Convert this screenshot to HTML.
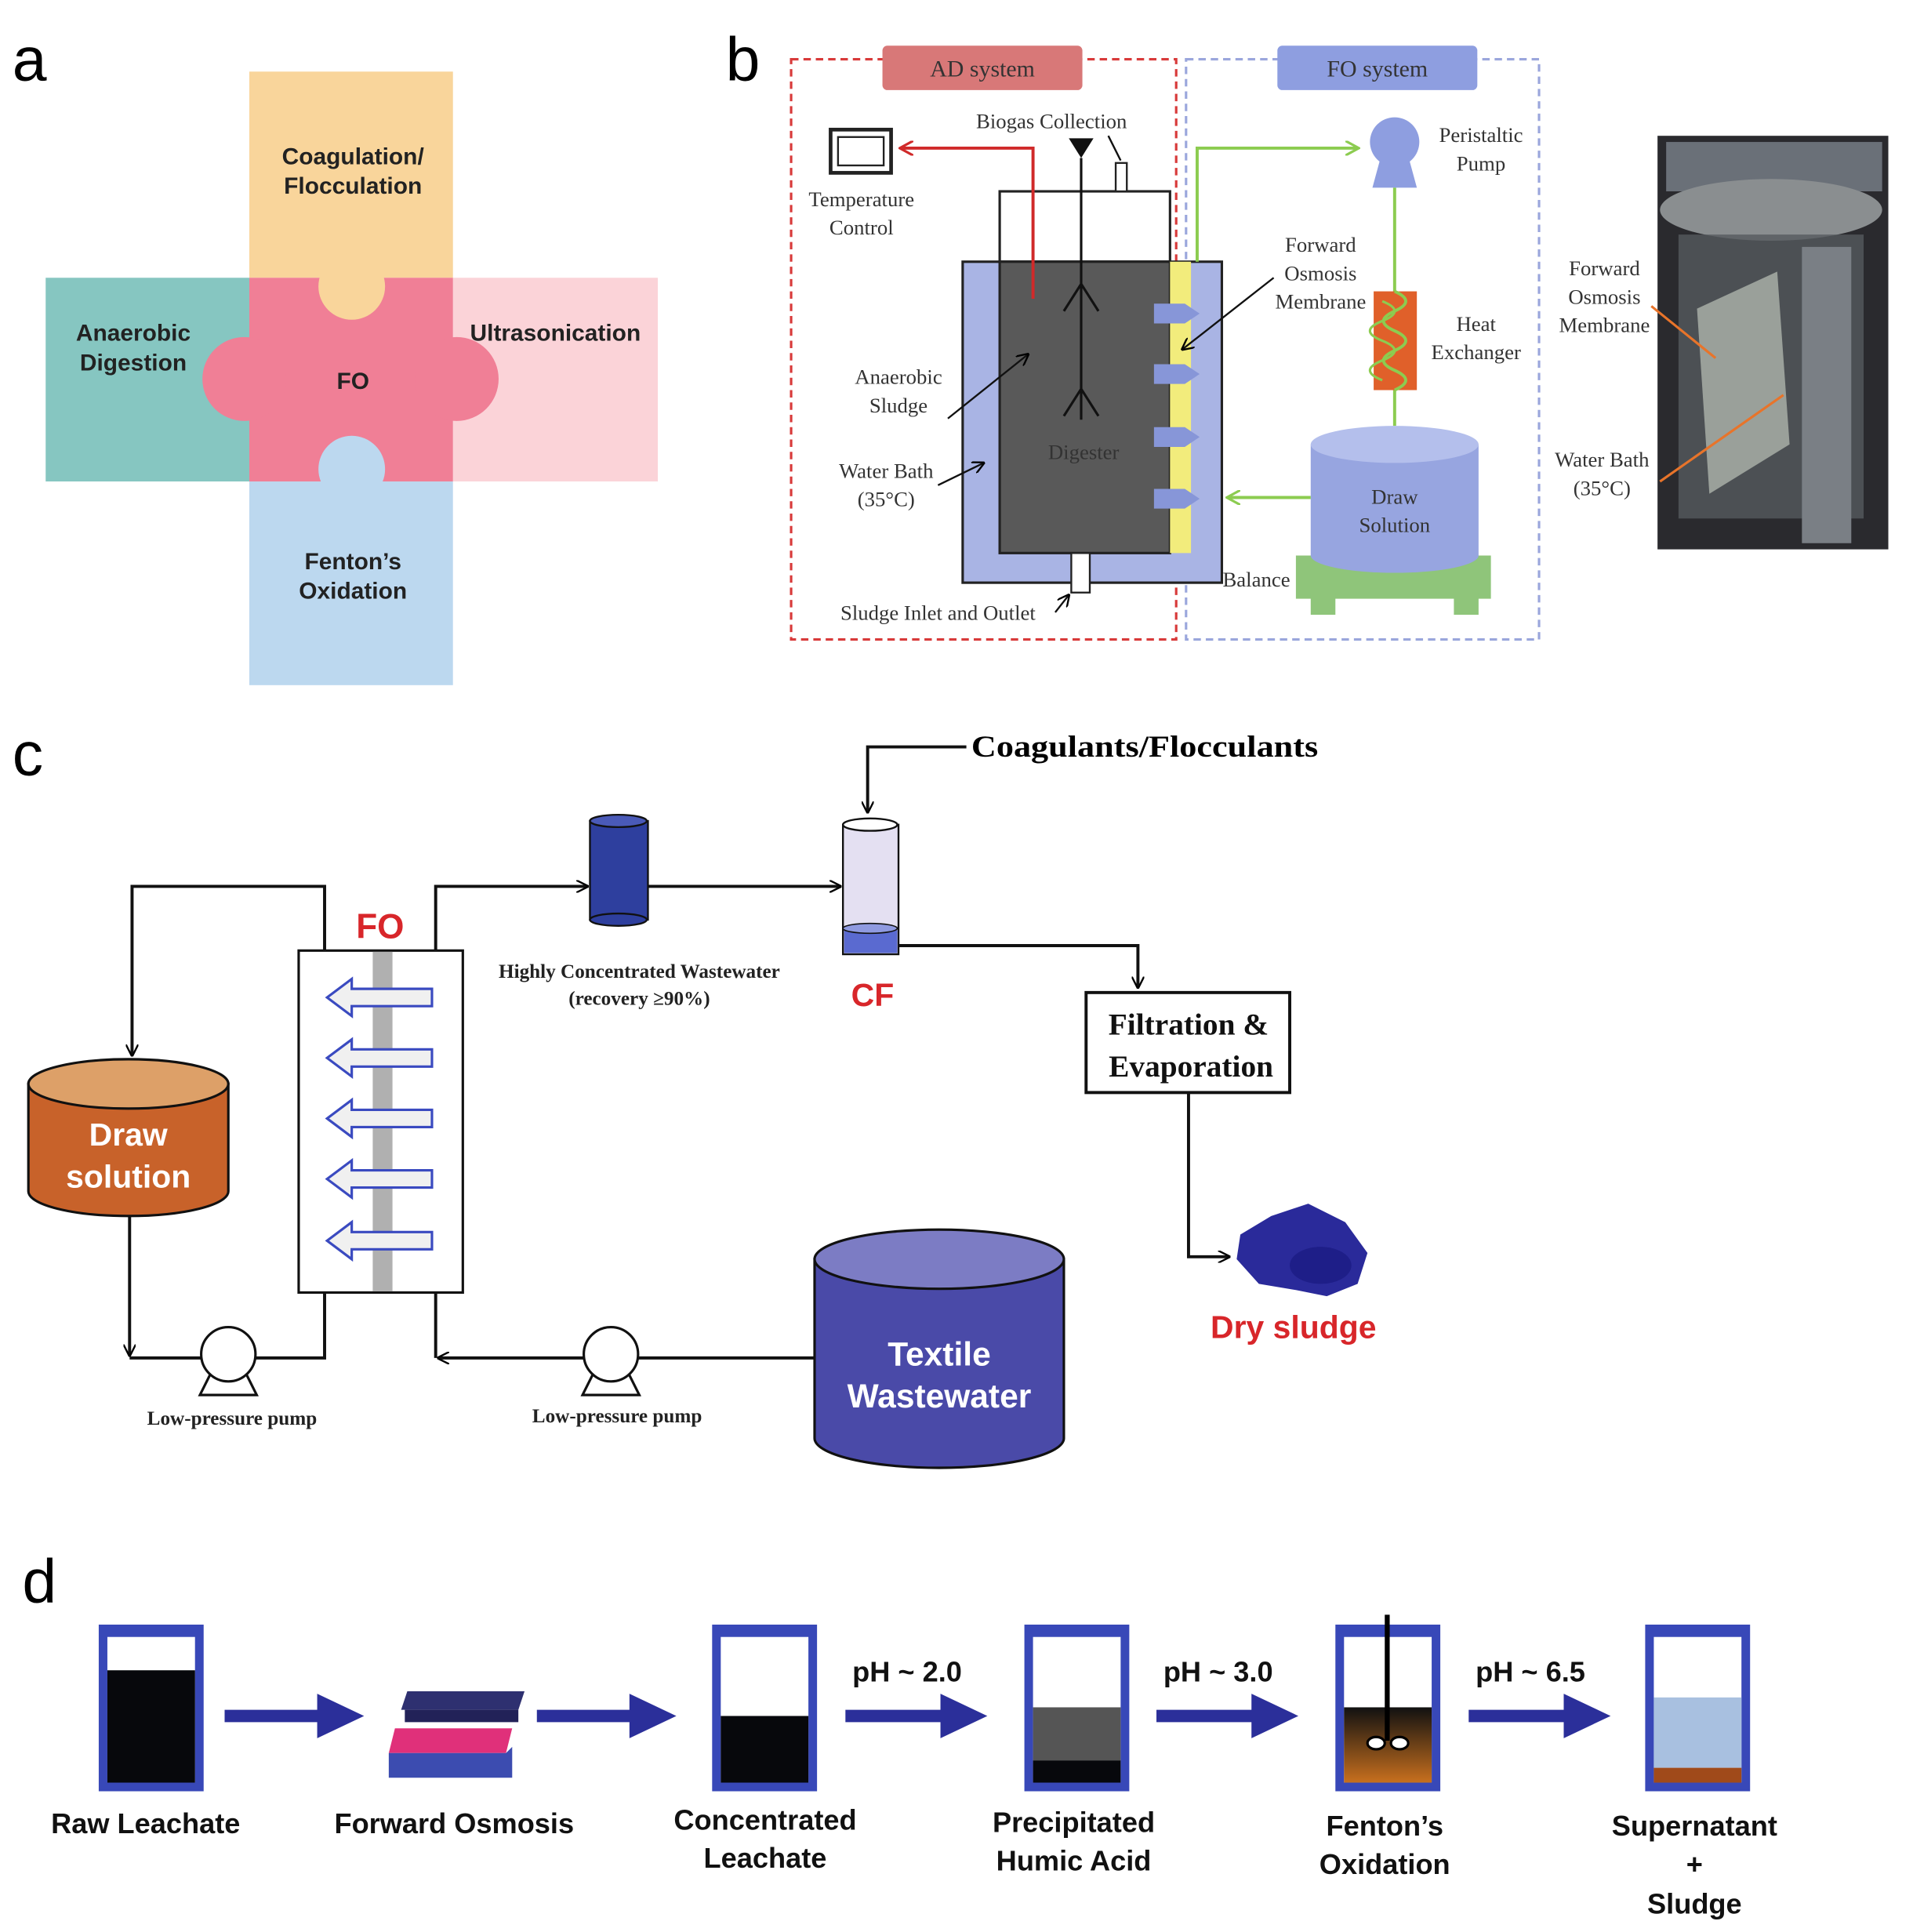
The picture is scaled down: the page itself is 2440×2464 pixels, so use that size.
<!DOCTYPE html>
<html><head><meta charset="utf-8"><style>
html,body{margin:0;padding:0;background:#fff;}
svg{display:block;}
.s{font-family:"Liberation Sans",sans-serif;font-weight:bold;}
.r{font-family:"Liberation Serif",serif;}
</style></head><body>
<svg width="2440" height="2464" viewBox="0 0 1550 1565" preserveAspectRatio="none" xmlns="http://www.w3.org/2000/svg">
<defs>
<marker id="ak" markerWidth="10" markerHeight="10" refX="9" refY="5" orient="auto" markerUnits="userSpaceOnUse"><path d="M0,0 L10,5 L0,10" fill="none" stroke="#000" stroke-width="1.5"/></marker>
<marker id="ar" markerWidth="12" markerHeight="12" refX="10" refY="6" orient="auto" markerUnits="userSpaceOnUse"><path d="M0,0 L11,6 L0,12" fill="none" stroke="#d02a2a" stroke-width="2"/></marker>
<marker id="ag" markerWidth="12" markerHeight="12" refX="10" refY="6" orient="auto" markerUnits="userSpaceOnUse"><path d="M0,0 L11,6 L0,12" fill="none" stroke="#8ccc50" stroke-width="2"/></marker>
<linearGradient id="fen" x1="0" y1="0" x2="0" y2="1"><stop offset="0" stop-color="#111"/><stop offset="1" stop-color="#c8701e"/></linearGradient>
</defs>

<!-- panel a -->
<text x="10" y="65" font-size="50" font-family="Liberation Sans,sans-serif">a</text>
<rect x="202" y="58" width="165" height="167" fill="#f9d59b"/>
<rect x="37" y="225" width="165" height="165" fill="#86c6c1"/>
<rect x="367" y="225" width="166" height="165" fill="#fbd3d8"/>
<rect x="202" y="390" width="165" height="165" fill="#bcd8ef"/>
<rect x="202" y="225" width="165" height="165" fill="#f07f96"/>
<circle cx="198" cy="307" r="34" fill="#f07f96"/>
<circle cx="370" cy="307" r="34" fill="#f07f96"/>
<circle cx="285" cy="232" r="27" fill="#f9d59b"/>
<circle cx="285" cy="380" r="27" fill="#bcd8ef"/>
<g class="s" font-size="19" fill="#222" text-anchor="middle">
<text x="286" y="133">Coagulation/</text><text x="286" y="157">Flocculation</text>
<text x="108" y="276">Anaerobic</text><text x="108" y="300">Digestion</text>
<text x="450" y="276">Ultrasonication</text>
<text x="286" y="315">FO</text>
<text x="286" y="461">Fenton’s</text><text x="286" y="485">Oxidation</text>
</g>

<!-- panel b -->
<text x="588" y="65" font-size="50" font-family="Liberation Sans,sans-serif">b</text>
<rect x="641" y="48" width="312" height="470" fill="none" stroke="#d83a3a" stroke-width="2" stroke-dasharray="6,4"/>
<rect x="961" y="48" width="286" height="470" fill="none" stroke="#9aa6dc" stroke-width="2" stroke-dasharray="6,4"/>
<rect x="715" y="37" width="162" height="36" rx="4" fill="#d87878"/>
<rect x="1035" y="37" width="162" height="36" rx="4" fill="#8e9ee0"/>
<g class="r" font-size="19" fill="#333" text-anchor="middle">
<text x="796" y="62">AD system</text><text x="1116" y="62">FO system</text>
</g>
<rect x="673" y="105" width="49" height="35" fill="none" stroke="#222" stroke-width="3"/>
<rect x="679" y="111" width="37" height="23" fill="none" stroke="#222" stroke-width="1.5"/>
<rect x="810" y="155" width="138" height="57" fill="#fff" stroke="#222" stroke-width="2"/>
<rect x="780" y="212" width="210" height="260" fill="#a9b4e4" stroke="#222" stroke-width="2"/>
<rect x="810" y="212" width="138" height="236" fill="#595959" stroke="#222" stroke-width="2"/>
<rect x="948" y="212" width="17" height="236" fill="#f2ec7c"/>
<g fill="#8796d8"><path d="M935,246h25l12,8l-12,8h-25z"/><path d="M935,295h25l12,8l-12,8h-25z"/><path d="M935,346h25l12,8l-12,8h-25z"/><path d="M935,396h25l12,8l-12,8h-25z"/></g>
<rect x="868" y="448" width="15" height="32" fill="#fff" stroke="#222" stroke-width="1.5"/>
<path d="M837,242V120H730" fill="none" stroke="#d02a2a" stroke-width="2.5" marker-end="url(#ar)"/>
<path d="M876,128V340M876,230l-14,22M876,230l14,22M876,315l-14,22M876,315l14,22" stroke="#111" stroke-width="2" fill="none"/>
<path d="M866,112h20l-10,16z" fill="#111"/>
<rect x="904" y="132" width="9" height="23" fill="#fff" stroke="#222" stroke-width="1.5"/>
<path d="M970,212V120H1100" fill="none" stroke="#8ccc50" stroke-width="2.5" marker-end="url(#ag)"/>
<circle cx="1130" cy="115" r="20" fill="#8e9ee0"/><path d="M1118,130h24l6,22h-36z" fill="#8e9ee0"/>
<path d="M1130,152V345" stroke="#8ccc50" stroke-width="2.5"/>
<rect x="1113" y="236" width="35" height="80" fill="#e0602a"/>
<path d="M1130,236q18,8 0,16t0,16t0,16t0,16t0,16" fill="none" stroke="#8ccc50" stroke-width="2.5"/>
<path d="M1120,244q20,8 0,16t0,16t0,16t0,16" fill="none" stroke="#8ccc50" stroke-width="2"/>
<rect x="1050" y="450" width="158" height="35" fill="#8fc57a"/>
<rect x="1062" y="480" width="20" height="18" fill="#8fc57a"/><rect x="1178" y="480" width="20" height="18" fill="#8fc57a"/>
<path d="M1062,360V450a68,14 0 0 0 136,0V360z" fill="#97a5e0"/>
<ellipse cx="1130" cy="360" rx="68" ry="15" fill="#b4bfec"/>
<path d="M1062,403H995" fill="none" stroke="#8ccc50" stroke-width="2.5" marker-end="url(#ag)"/>
<g class="r" font-size="17" fill="#333" text-anchor="middle">
<text x="852" y="104">Biogas Collection</text>
<text x="698" y="167">Temperature</text><text x="698" y="190">Control</text>
<text x="1070" y="204">Forward</text><text x="1070" y="227">Osmosis</text><text x="1070" y="250">Membrane</text>
<text x="1200" y="115">Peristaltic</text><text x="1200" y="138">Pump</text>
<text x="1196" y="268">Heat</text><text x="1196" y="291">Exchanger</text>
<text x="728" y="311">Anaerobic</text><text x="728" y="334">Sludge</text>
<text x="878" y="372">Digester</text>
<text x="718" y="387">Water Bath</text><text x="718" y="410">(35°C)</text>
<text x="1130" y="408">Draw</text><text x="1130" y="431">Solution</text>
<text x="1018" y="475">Balance</text>
<text x="760" y="502">Sludge Inlet and Outlet</text>
<text x="1300" y="223">Forward</text><text x="1300" y="246">Osmosis</text><text x="1300" y="269">Membrane</text>
<text x="1298" y="378">Water Bath</text><text x="1298" y="401">(35°C)</text>
</g>
<g stroke="#111" stroke-width="1.5" fill="none">
<path d="M1032,225L958,283" marker-end="url(#ak)"/>
<path d="M768,339L833,287" marker-end="url(#ak)"/>
<path d="M760,393L797,375" marker-end="url(#ak)"/>
<path d="M855,496L866,482" marker-end="url(#ak)"/>
<path d="M898,110L908,130"/>
</g>
<!-- photo -->
<rect x="1343" y="110" width="187" height="335" fill="#2a2a2e"/>
<rect x="1350" y="115" width="175" height="40" fill="#6a7078"/>
<ellipse cx="1435" cy="170" rx="90" ry="25" fill="#8a8e90"/>
<rect x="1360" y="190" width="150" height="230" fill="#555a5e" opacity=".8"/>
<path d="M1375,250L1440,220L1450,360L1385,400z" fill="#9aa09a"/>
<rect x="1460" y="200" width="40" height="240" fill="#7a7f85"/>
<path d="M1338,248L1390,290M1345,390L1445,320" stroke="#e8742a" stroke-width="2"/>

<!-- panel c -->
<text x="10" y="628" font-size="50" font-family="Liberation Sans,sans-serif">c</text>
<text x="787" y="613" class="r" font-weight="bold" font-size="25" textLength="281" lengthAdjust="spacingAndGlyphs">Coagulants/Flocculants</text>
<g stroke="#111" stroke-width="2.5" fill="none">
<path d="M783,605H703V658" marker-end="url(#ak)"/>
<path d="M353,770V718H476" marker-end="url(#ak)"/>
<path d="M525,718H681" marker-end="url(#ak)"/>
<path d="M728,766H922V800" marker-end="url(#ak)"/>
<path d="M963,885V1018H996" marker-end="url(#ak)"/>
<path d="M263,770V718H107V855" marker-end="url(#ak)"/>
<path d="M105,985V1098" marker-end="url(#ak)"/>
<path d="M105,1100H263V1047"/>
<path d="M353,1047V1100"/>
<path d="M660,1100H355" marker-end="url(#ak)"/>
</g>
<rect x="478" y="665" width="47" height="80" fill="#2e3f9e" stroke="#111" stroke-width="1.5"/>
<ellipse cx="501" cy="745" rx="23" ry="5" fill="#2e3f9e" stroke="#111" stroke-width="1.5"/>
<ellipse cx="501" cy="665" rx="23" ry="5" fill="#4a5ab8" stroke="#111" stroke-width="1.5"/>
<rect x="683" y="668" width="45" height="105" fill="#e4e0f2" stroke="#111" stroke-width="1.5"/>
<rect x="684" y="752" width="43" height="20" fill="#5a6ad0"/>
<ellipse cx="705" cy="668" rx="22" ry="5" fill="#fff" stroke="#111" stroke-width="1.5"/>
<ellipse cx="705" cy="752" rx="22" ry="4" fill="#8f9ae0" stroke="#111" stroke-width="1"/>
<g class="s" fill="#d8262a" text-anchor="middle"><text x="308" y="760" font-size="28">FO</text><text x="707" y="815" font-size="26">CF</text><text x="1048" y="1084" font-size="26">Dry sludge</text></g>
<g class="r" font-weight="bold" font-size="16" fill="#222" text-anchor="middle"><text x="518" y="792">Highly Concentrated Wastewater</text><text x="518" y="814">(recovery ≥90%)</text>
<text x="188" y="1154">Low-pressure pump</text><text x="500" y="1152">Low-pressure pump</text></g>
<rect x="880" y="804" width="165" height="81" fill="#fff" stroke="#111" stroke-width="2.5"/>
<g class="r" font-weight="bold" font-size="25" fill="#111" text-anchor="middle"><text x="963" y="838">Filtration &amp;</text><text x="965" y="872">Evaporation</text></g>
<rect x="242" y="770" width="133" height="277" fill="#fff" stroke="#111" stroke-width="2"/>
<rect x="302" y="771" width="16" height="275" fill="#b0b0b0"/>
<g fill="#f0f0f0" stroke="#3a4ac0" stroke-width="2">
<path d="M350,801H285V793L265,808L285,823V815H350z"/>
<path d="M350,850H285V842L265,857L285,872V864H350z"/>
<path d="M350,899H285V891L265,906L285,921V913H350z"/>
<path d="M350,948H285V940L265,955L285,970V962H350z"/>
<path d="M350,998H285V990L265,1005L285,1020V1012H350z"/>
</g>
<path d="M23,878V965a81,20 0 0 0 162,0V878z" fill="#c8622a" stroke="#111" stroke-width="2"/>
<ellipse cx="104" cy="878" rx="81" ry="20" fill="#dda068" stroke="#111" stroke-width="2"/>
<g class="s" font-size="26" fill="#fff" text-anchor="middle" font-weight="normal"><text x="104" y="928">Draw</text><text x="104" y="962">solution</text></g>
<path d="M660,1020V1165a101,24 0 0 0 202,0V1020z" fill="#4a4aa8" stroke="#111" stroke-width="2"/>
<ellipse cx="761" cy="1020" rx="101" ry="24" fill="#7c7cc4" stroke="#111" stroke-width="2"/>
<g class="s" font-size="27" fill="#fff" text-anchor="middle" font-weight="normal"><text x="761" y="1106">Textile</text><text x="761" y="1140">Wastewater</text></g>
<g fill="#fff" stroke="#111" stroke-width="2">
<path d="M162,1130L172,1110H198L208,1130z"/><circle cx="185" cy="1097" r="22"/>
<path d="M472,1130L482,1110H508L518,1130z"/><circle cx="495" cy="1097" r="22"/>
</g>
<path d="M1005,1000L1030,985L1060,975L1090,990L1108,1015L1100,1040L1075,1050L1050,1045L1020,1040L1002,1020z" fill="#2a2a9a"/>
<ellipse cx="1070" cy="1025" rx="25" ry="15" fill="#1e1e88"/>

<!-- panel d -->
<text x="18" y="1298" font-size="50" font-family="Liberation Sans,sans-serif">d</text>
<g fill="#3848b8">
<rect x="80" y="1316" width="85" height="135"/><rect x="577" y="1316" width="85" height="135"/>
<rect x="830" y="1316" width="85" height="135"/><rect x="1082" y="1316" width="85" height="135"/>
<rect x="1333" y="1316" width="85" height="135"/>
</g>
<g fill="#fff"><rect x="87" y="1326" width="71" height="118"/><rect x="584" y="1326" width="71" height="118"/><rect x="837" y="1326" width="71" height="118"/><rect x="1089" y="1326" width="71" height="118"/><rect x="1340" y="1326" width="71" height="118"/></g>
<rect x="87" y="1353" width="71" height="91" fill="#07080c"/>
<rect x="584" y="1390" width="71" height="54" fill="#07080c"/>
<rect x="837" y="1383" width="71" height="43" fill="#555"/><rect x="837" y="1426" width="71" height="18" fill="#07080c"/>
<rect x="1089" y="1383" width="71" height="61" fill="url(#fen)"/>
<path d="M1124,1308V1410" stroke="#000" stroke-width="4"/>
<ellipse cx="1115" cy="1412" rx="7" ry="5" fill="#fff" stroke="#000" stroke-width="2"/><ellipse cx="1134" cy="1412" rx="7" ry="5" fill="#fff" stroke="#000" stroke-width="2"/>
<rect x="1340" y="1375" width="71" height="57" fill="#a8c0e0"/><rect x="1340" y="1432" width="71" height="12" fill="#a04a1a"/>
<g fill="#2b2f9a">
<path d="M182,1385h75v-13l38,18l-38,18v-13h-75z"/>
<path d="M435,1385h75v-13l38,18l-38,18v-13h-75z"/>
<path d="M685,1385h77v-13l38,18l-38,18v-13h-77z"/>
<path d="M937,1385h77v-13l38,18l-38,18v-13h-77z"/>
<path d="M1190,1385h77v-13l38,18l-38,18v-13h-77z"/>
</g>
<path d="M330,1370h95l-5,15h-95z" fill="#2e3070"/><path d="M328,1385h92v10h-92z" fill="#222258"/>
<path d="M320,1400h95l-5,20h-95z" fill="#e0307a"/>
<path d="M315,1420h95l5,-5v25h-100z" fill="#3c4cb0"/>
<g class="s" font-size="23" fill="#111" text-anchor="middle">
<text x="735" y="1362">pH ~ 2.0</text><text x="987" y="1362">pH ~ 3.0</text><text x="1240" y="1362">pH ~ 6.5</text>
<text x="118" y="1485">Raw Leachate</text><text x="368" y="1485">Forward Osmosis</text>
<text x="620" y="1482">Concentrated</text><text x="620" y="1513">Leachate</text>
<text x="870" y="1484">Precipitated</text><text x="870" y="1515">Humic Acid</text>
<text x="1122" y="1487">Fenton’s</text><text x="1122" y="1518">Oxidation</text>
<text x="1373" y="1487">Supernatant</text><text x="1373" y="1518">+</text><text x="1373" y="1550">Sludge</text>
</g>
</svg>
</body></html>
